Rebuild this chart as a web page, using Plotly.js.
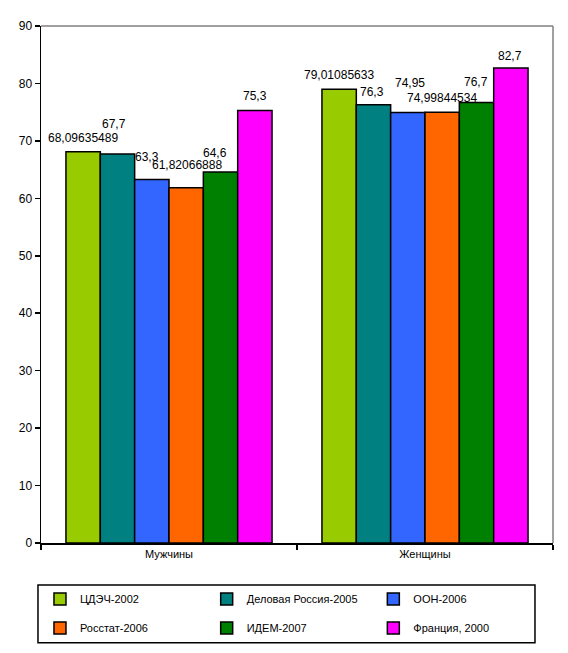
<!DOCTYPE html>
<html><head><meta charset="utf-8">
<script src="https://cdn.plot.ly/plotly-3.0.1.min.js"></script>
<style>html,body{margin:0;padding:0;background:#fff}</style>
</head><body>
<div id="chart" style="width:568px;height:653px"></div>
<script>
const categories = ['Мужчины', 'Женщины'];
const seriesNames = ['ЦДЭЧ-2002', 'Деловая Россия-2005', 'ООН-2006', 'Росстат-2006', 'ИДЕМ-2007', 'Франция, 2000'];
const cdech2002 = [68.09635489, 79.01085633];
const delRossia2005 = [67.7, 76.3];
const oon2006 = [63.3, 74.95];
const rosstat2006 = [61.82066888, 74.99844534];
const idem2007 = [64.6, 76.7];
const france2000 = [75.3, 82.7];
const seriesValues = [cdech2002, delRossia2005, oon2006, rosstat2006, idem2007, france2000];

const colors = ['#99CC00', '#008080', '#3366FF', '#FF6600', '#008000', '#FF00FF'];
// label offsets (style): [series][category]
const labelYShift = [[14, 14], [30, 13], [22, 29], [23, 14], [19, 20], [14, 12]];
const labelXShift = [[0, 0], [-3, -1], [-5, 2], [1, 0], [-6, -1], [0, -1]];

const FONT = 'Liberation Sans, Arial, sans-serif';
const bargap = 0.195;
const nS = seriesValues.length;
const bw = (1 - bargap) / nS;

const fmt = v => String(v).replace('.', ',');

const legendIds = ['legend', 'legend2', 'legend3', 'legend4', 'legend5', 'legend6'];
const legendX = [-0.002, 0.3236, 0.6491];
const legendY = [-0.106, -0.162];

const traces = seriesValues.map((vals, k) => ({
  type: 'bar',
  name: seriesNames[k],
  x: categories,
  y: vals,
  marker: {color: colors[k], line: {color: '#000', width: 1.5}},
  legend: legendIds[k],
  hoverinfo: 'none'
}));

const annotations = [];
seriesValues.forEach((vals, k) => {
  vals.forEach((v, i) => {
    annotations.push({
      xref: 'x', yref: 'y',
      x: i - (1 - bargap) / 2 + (k + 0.5) * bw,
      y: v,
      text: fmt(v),
      showarrow: false,
      yanchor: 'middle', xanchor: 'center',
      yshift: labelYShift[k][i],
      xshift: labelXShift[k][i],
      font: {family: FONT, size: 12, color: '#000'}
    });
  });
});

const layout = {
  width: 568, height: 653,
  margin: {l: 41, r: 15, t: 26, b: 109},
  paper_bgcolor: '#fff', plot_bgcolor: '#fff',
  barmode: 'group', bargap: bargap, bargroupgap: 0,
  font: {family: FONT, size: 11, color: '#000'},
  xaxis: {
    type: 'category', showline: true, linecolor: '#000', linewidth: 1.5,
    ticks: 'outside', tickson: 'boundaries', ticklen: 5, tickcolor: '#000', tickwidth: 1.5,
    showgrid: false, zeroline: false,
    tickfont: {family: FONT, size: 11, color: '#000'}
  },
  yaxis: {
    range: [0, 90], dtick: 10, showline: true, linecolor: '#000', linewidth: 1.5,
    ticks: 'outside', ticklen: 5, tickcolor: '#000', tickwidth: 1.5,
    showgrid: false, zeroline: false,
    tickfont: {family: FONT, size: 12, color: '#000'}
  },
  showlegend: true,
  annotations: annotations,
  shapes: [
    {type: 'line', xref: 'paper', yref: 'paper', x0: 0, x1: 1, y0: 1, y1: 1, line: {color: '#808080', width: 1.5}},
    {type: 'line', xref: 'paper', yref: 'paper', x0: 1, x1: 1, y0: 0, y1: 1, line: {color: '#808080', width: 1.5}},
    {type: 'rect', xref: 'paper', yref: 'paper', x0: -0.0059, x1: 0.9648, y0: -0.0811, y1: -0.193, line: {color: '#000', width: 1.5}}
  ]
};

legendIds.forEach((id, k) => {
  layout[id] = {
    orientation: 'v', xanchor: 'left', yanchor: 'middle',
    x: legendX[k % 3], y: legendY[Math.floor(k / 3)],
    font: {family: FONT, size: 11, color: '#000'},
    bgcolor: 'rgba(0,0,0,0)', itemwidth: 30
  };
});

Plotly.newPlot('chart', traces, layout, {displayModeBar: false, staticPlot: true});
</script>
</body></html>
